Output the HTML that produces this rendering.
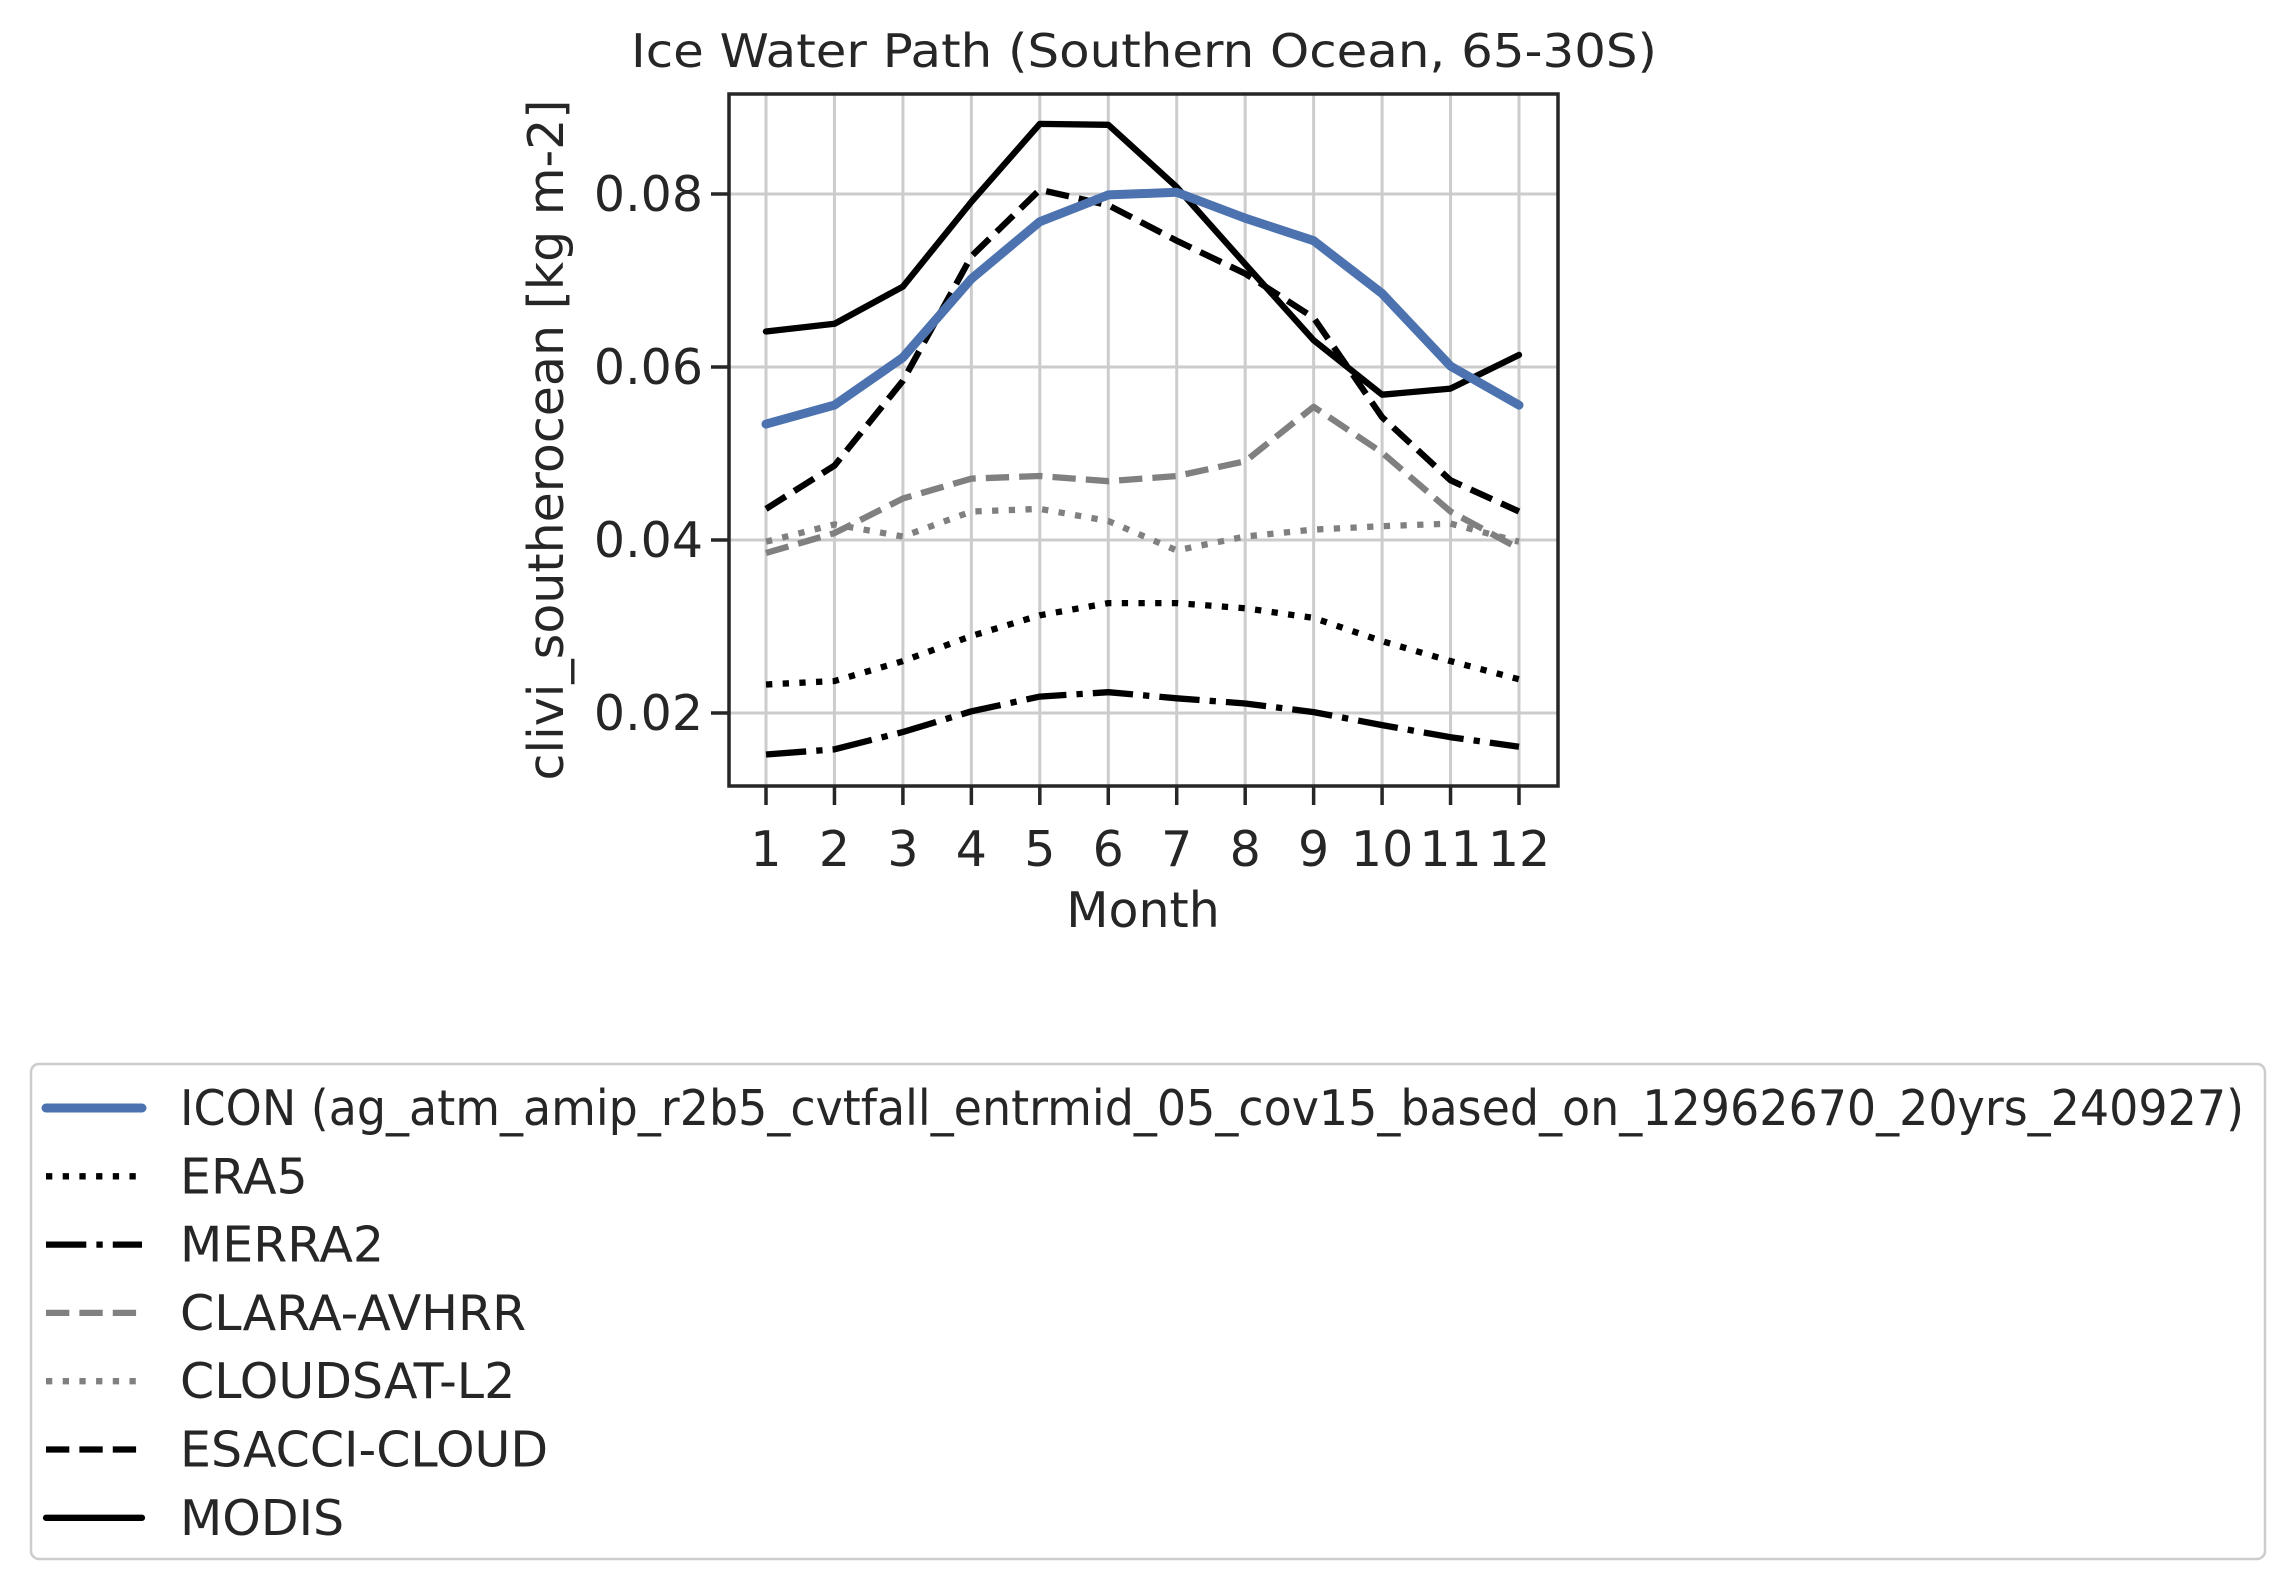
<!DOCTYPE html>
<html><head><meta charset="utf-8"><style>
html,body{margin:0;padding:0;background:#fff;}
svg{display:block;font-family:"DejaVu Sans","Liberation Sans",sans-serif;}
</style></head><body>
<svg id="chart" width="2284" height="1585" viewBox="0 0 2284 1585">
<text x="1144" y="67" text-anchor="middle" font-size="46" fill="#262626" textLength="1026" lengthAdjust="spacingAndGlyphs">Ice Water Path (Southern Ocean, 65-30S)</text>
<g id="grid"></g>
<g id="series"></g>
<rect x="729" y="94" width="829" height="692" fill="none" stroke="#262626" stroke-width="3.5"/>
<g id="axes"></g>
<text x="0" y="0" transform="translate(563,440) rotate(-90)" text-anchor="middle" font-size="49" fill="#262626">clivi_southerocean [kg m-2]</text>
<text x="1143" y="927" text-anchor="middle" font-size="49" fill="#262626">Month</text>
<rect x="31" y="1064" width="2234" height="495" rx="8" fill="#fff" stroke="#cccccc" stroke-width="2.5"/>
<g id="legend"></g>
</svg>
<script>
const months = [1,2,3,4,5,6,7,8,9,10,11,12];
const yTicks = [0.02,0.04,0.06,0.08];
const yTickLabels = ["0.02","0.04","0.06","0.08"];
const seriesNames = ["ICON (ag_atm_amip_r2b5_cvtfall_entrmid_05_cov15_based_on_12962670_20yrs_240927)","ERA5","MERRA2","CLARA-AVHRR","CLOUDSAT-L2","ESACCI-CLOUD","MODIS"];
const icon = [0.0534,0.0556,0.0611,0.0702,0.0768,0.0799,0.0802,0.0772,0.0746,0.0685,0.0601,0.0556];
const era5 = [0.0233,0.0237,0.0260,0.0289,0.0313,0.0327,0.0327,0.0321,0.0310,0.0283,0.0260,0.0239];
const merra2 = [0.0152,0.0158,0.0178,0.0202,0.0219,0.0224,0.0217,0.0211,0.0201,0.0186,0.0172,0.0161];
const clara = [0.0385,0.0408,0.0448,0.0471,0.0474,0.0468,0.0474,0.0491,0.0554,0.0501,0.0433,0.0390];
const cloudsat = [0.0398,0.0418,0.0404,0.0433,0.0436,0.0422,0.0388,0.0404,0.0412,0.0416,0.0419,0.0398];
const esacci = [0.0436,0.0486,0.0584,0.0728,0.0805,0.0787,0.0746,0.0708,0.0657,0.0542,0.0469,0.0433];
const modis = [0.0641,0.0650,0.0693,0.0791,0.0881,0.0880,0.0808,0.0719,0.0631,0.0568,0.0575,0.0614];

const NS="http://www.w3.org/2000/svg";
const X0=766, XSTEP=(1519-766)/11;
const xs = m => X0 + (m-1)*XSTEP;
const ys = v => 713 - (v-0.02)*(713-194)/0.06;
function mk(tag, attrs, parent){const e=document.createElementNS(NS,tag);for(const k in attrs)e.setAttribute(k,attrs[k]);parent.appendChild(e);return e;}
const grid=document.getElementById('grid'), axes=document.getElementById('axes'), ser=document.getElementById('series'), leg=document.getElementById('legend');
months.forEach(m=>{
  const l=mk('line',{x1:xs(m),x2:xs(m),y1:94,y2:786,stroke:'#cccccc','stroke-width':3},grid);
  
  
  const t=mk('line',{x1:xs(m),x2:xs(m),y1:786,y2:805,stroke:'#262626','stroke-width':3.5},axes);
  
  
  const tx=mk('text',{x:xs(m),y:866,'text-anchor':'middle','font-size':49,fill:'#262626'},axes);
  tx.textContent=m;
  
  
});
yTicks.forEach((v,i)=>{
  const l=mk('line',{x1:729,x2:1558,y1:ys(v),y2:ys(v),stroke:'#cccccc','stroke-width':3},grid);
  
  
  const t=mk('line',{x1:711,x2:729,y1:ys(v),y2:ys(v),stroke:'#262626','stroke-width':3.5},axes);
  
  
  const tx=mk('text',{x:703,y:ys(v)+17,'text-anchor':'end','font-size':49,fill:'#262626'},axes);
  tx.textContent=yTickLabels[i];
  
  
});
const lw=6.3;
const styles=[
 {d:icon,c:'#4c72b0',w:9,dash:null,n:'series-icon'},
 {d:era5,c:'#000',w:lw,dash:[1*lw,1.65*lw],n:'series-era5'},
 {d:merra2,c:'#000',w:lw,dash:[6.4*lw,1.6*lw,1*lw,1.6*lw],n:'series-merra2'},
 {d:clara,c:'#808080',w:lw,dash:[3.7*lw,1.6*lw],n:'series-clara-avhrr'},
 {d:cloudsat,c:'#808080',w:lw,dash:[1*lw,1.65*lw],n:'series-cloudsat-l2'},
 {d:esacci,c:'#000',w:lw,dash:[3.7*lw,1.6*lw],n:'series-esacci-cloud'},
 {d:modis,c:'#000',w:lw,dash:null,n:'series-modis'}
];
const order=[6,5,4,3,2,1,0];
order.forEach(i=>{
  const s=styles[i];
  const pts=s.d.map((v,j)=>xs(months[j]).toFixed(1)+','+ys(v).toFixed(1)).join(' ');
  const a={points:pts,fill:'none',stroke:s.c,'stroke-width':s.w,'stroke-linejoin':'round','stroke-linecap':s.dash?'butt':'round'};
  if(s.dash)a['stroke-dasharray']=s.dash.join(',');
  const p=mk('polyline',a,ser);
  
  
});
styles.forEach((s,i)=>{
  const y=1108+i*68.3;
  const a={x1:46,x2:142,y1:y,y2:y,stroke:s.c,'stroke-width':s.w,'stroke-linecap':s.dash?'butt':'round'};
  if(s.dash)a['stroke-dasharray']=s.dash.join(',');
  const l=mk('line',a,leg);
  
  
  const ta={x:180,y:y+17,'font-size':49,fill:'#262626'};
  if(i===0){ta.textLength=2064;ta.lengthAdjust='spacingAndGlyphs';}
  const t=mk('text',ta,leg);
  t.textContent=seriesNames[i];
  
  
});
</script>
</body></html>
